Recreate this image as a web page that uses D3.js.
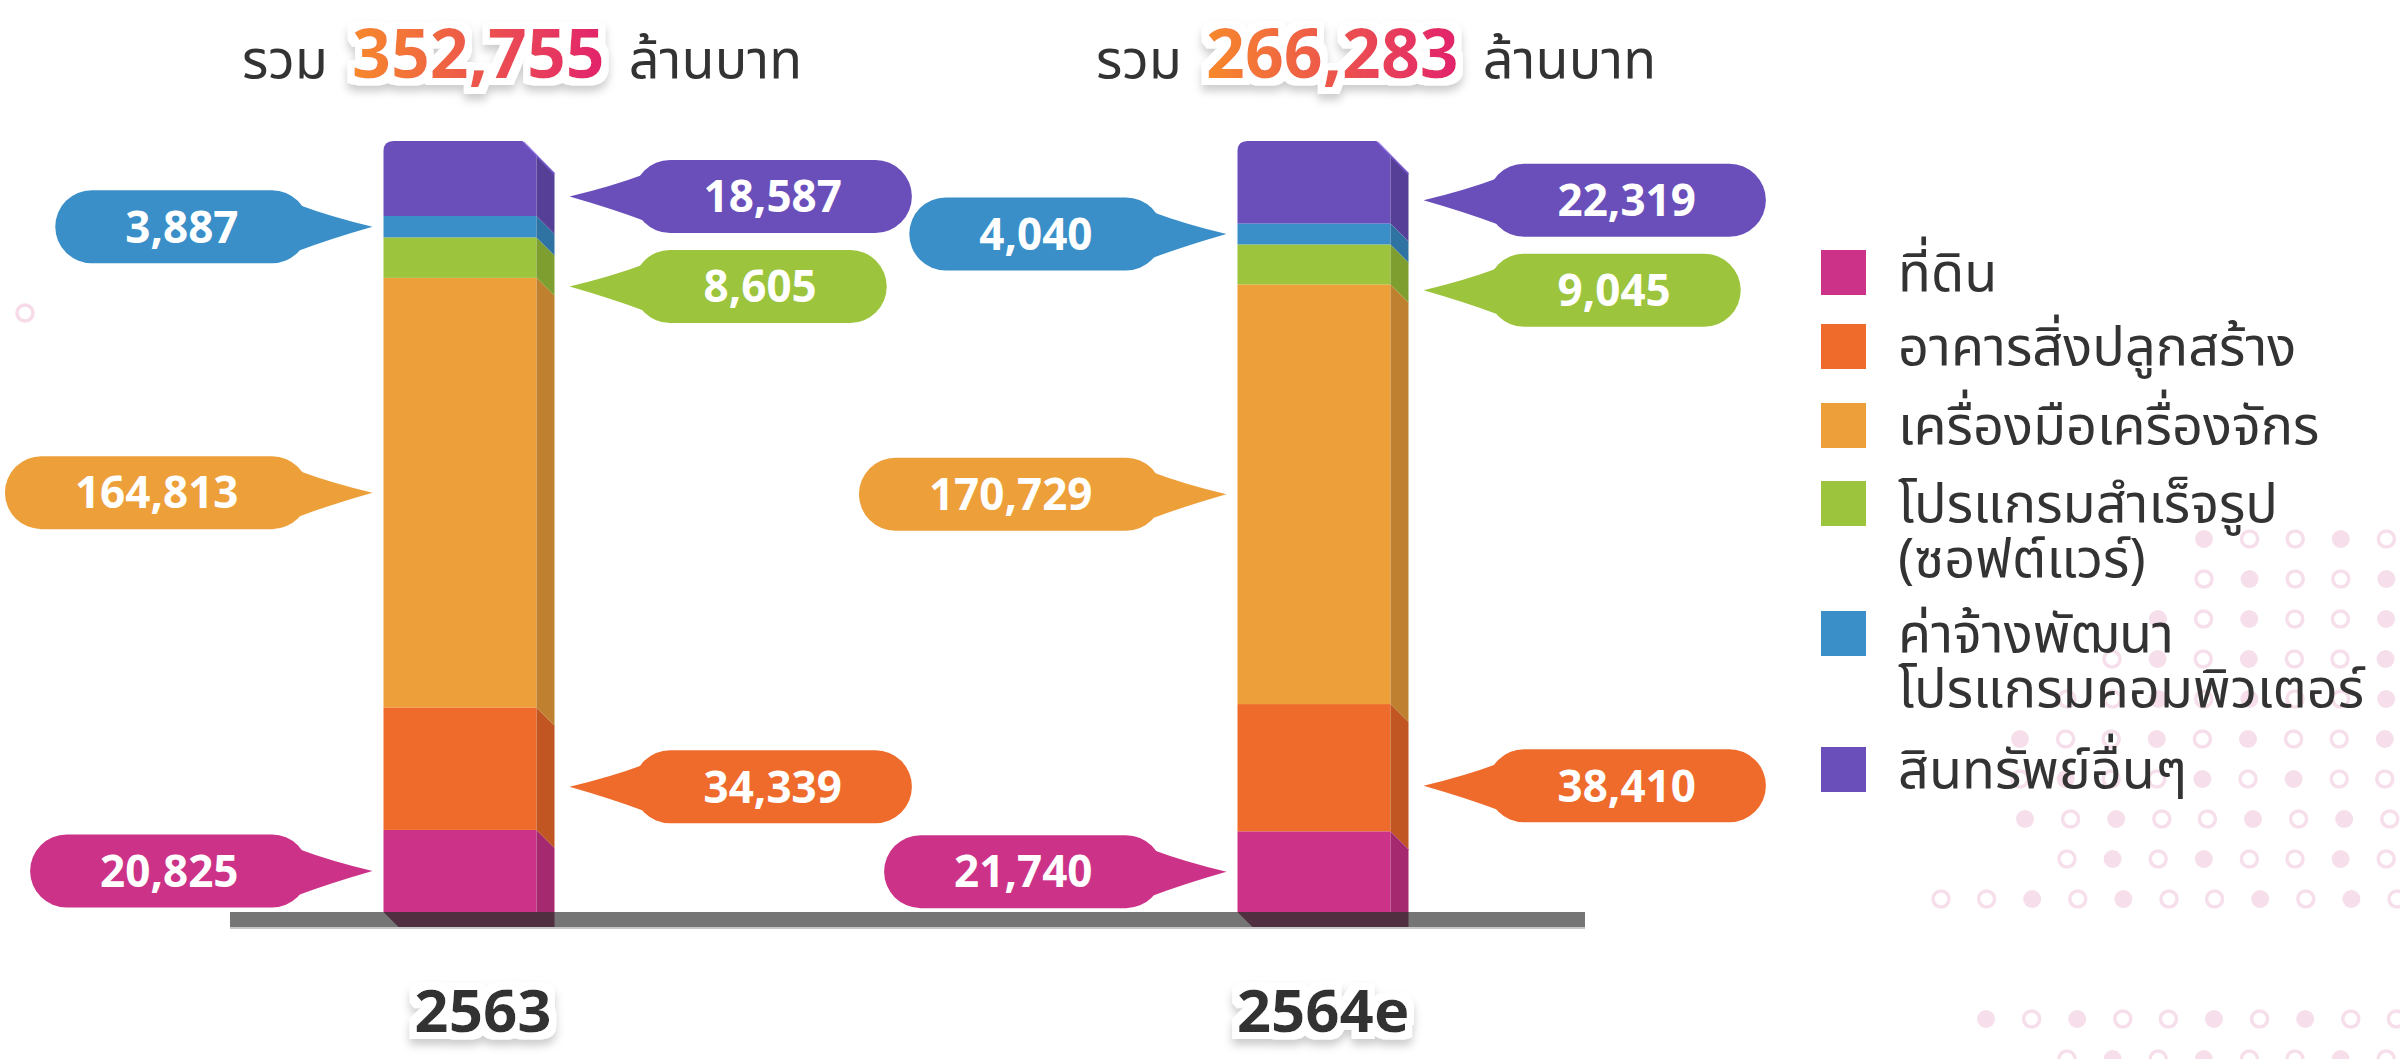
<!DOCTYPE html>
<html>
<head>
<meta charset="utf-8">
<script src="https://cdn.jsdelivr.net/npm/d3@7"></script>
<style>
  html, body { margin: 0; padding: 0; background: #fff; }
  svg { display: block; font-family: "Noto Sans Thai", "Noto Sans Thai UI", "Noto Sans", sans-serif; }
</style>
</head>
<body>
<script>
const years = ["2563", "2564e"];
const totals = [352755, 266283];
const categories = ["ที่ดิน", "อาคารสิ่งปลูกสร้าง", "เครื่องมือเครื่องจักร",
  "โปรแกรมสำเร็จรูป (ซอฟต์แวร์)", "ค่าจ้างพัฒนาโปรแกรมคอมพิวเตอร์", "สินทรัพย์อื่นๆ"];
const legendLines = [["ที่ดิน"], ["อาคารสิ่งปลูกสร้าง"], ["เครื่องมือเครื่องจักร"],
  ["โปรแกรมสำเร็จรูป", "(ซอฟต์แวร์)"], ["ค่าจ้างพัฒนา", "โปรแกรมคอมพิวเตอร์"], ["สินทรัพย์อื่นๆ"]];
const values2563 = [20825, 34339, 164813, 8605, 3887, 18587];
const values2564 = [21740, 38410, 170729, 9045, 4040, 22319];
const colors = ["#cc3388", "#ef6b2b", "#eda03a", "#9cc43c", "#3a8fc9", "#6a4fbb"];
// which side of the bar each callout sits on
const calloutSide = ["left", "right", "left", "right", "left", "right"];

const W = 2400, H = 1059;
const svg = d3.select("body").append("svg").attr("width", W).attr("height", H);
const defs = svg.append("defs");

// white halo + soft drop shadow used on the big texts
const halo = defs.append("filter").attr("id", "halo")
  .attr("x", "-20%").attr("y", "-30%").attr("width", "140%").attr("height", "160%");
halo.append("feMorphology").attr("in", "SourceAlpha").attr("operator", "dilate").attr("radius", 7).attr("result", "d");
halo.append("feGaussianBlur").attr("in", "d").attr("stdDeviation", 4).attr("result", "db");
halo.append("feOffset").attr("in", "db").attr("dx", 0).attr("dy", 6).attr("result", "off");
halo.append("feFlood").attr("flood-color", "#000").attr("flood-opacity", 0.2);
halo.append("feComposite").attr("in2", "off").attr("operator", "in").attr("result", "shadow");
halo.append("feFlood").attr("flood-color", "#fff");
halo.append("feComposite").attr("in2", "d").attr("operator", "in").attr("result", "white");
const hm = halo.append("feMerge");
hm.append("feMergeNode").attr("in", "shadow");
hm.append("feMergeNode").attr("in", "white");
hm.append("feMergeNode").attr("in", "SourceGraphic");

const grad = defs.append("linearGradient").attr("id", "numGrad")
  .attr("x1", "0%").attr("x2", "100%").attr("y1", "0%").attr("y2", "0%");
grad.append("stop").attr("offset", "0%").attr("stop-color", "#f7892a");
grad.append("stop").attr("offset", "100%").attr("stop-color", "#e2226d");

// ---- background dots (decoration) ----
const dotRows = d3.range(14).filter(j => j != 10 && j != 11);
const rowStart = [2204, 2204, 2158, 2112, 2067, 2020, 2020, 2025, 2067, 1941, 0, 0, 1986, 2067];
const gDots = svg.append("g");
dotRows.forEach(function(j) {
  const y = 539 + 40 * j;
  for (let x = rowStart[j], i = 0; x < W + 10; x += 45.6, i++) {
    const filled = (i * 7 + j * 3) % 5 < 2;
    gDots.append("circle")
      .attr("cx", x).attr("cy", y).attr("r", filled ? 9 : 8)
      .attr("fill", filled ? "#f6dfea" : "none")
      .attr("stroke", "#f6dfea").attr("stroke-width", filled ? 0 : 3.5);
  }
});
gDots.append("circle").attr("cx", 25).attr("cy", 313).attr("r", 8)
  .attr("fill", "none").attr("stroke", "#f7dbe8").attr("stroke-width", 3.5);

// ---- scales ----
const barW = 153, depth = 18, chamfer = 14;
const barTop = 141, barBottom = 912;
const x = d3.scalePoint().domain(years).range([460, 1314]);
const allValues = values2563.concat(values2564);
// infographic bars: heights are compressed, each bar fills the same column
const hScale = d3.scalePow().exponent(0.8).domain([0, d3.max(allValues)]).range([0, 1]);

// base line
svg.append("rect").attr("x", 230).attr("y", barBottom).attr("width", 1355).attr("height", 15).attr("fill", "#757575");
svg.append("rect").attr("x", 230).attr("y", barBottom + 15).attr("width", 1355).attr("height", 2).attr("fill", "#c8c8c8");

function bubble(g, side, tipX, cy, label, color) {
  const h = 73, r = h / 2, pad = 70, tail = 64;
  const t = g.append("text").attr("font-size", 44).attr("font-weight", 700)
    .attr("fill", "#fff").attr("text-anchor", "middle").attr("dy", "0.36em").text(label);
  const tw = t.node().getComputedTextLength();
  const bw = tw + 2 * pad;
  const s = side == "right" ? 1 : -1;
  const edge = side == "right" ? tipX + tail : tipX - tail;
  const bx0 = side == "right" ? edge : edge - bw;
  const p = d3.path();
  p.moveTo(tipX, cy);
  p.quadraticCurveTo(edge - s * 22, cy - 10, edge + s * 10, cy - 22);
  p.lineTo(edge + s * 10, cy + 24);
  p.quadraticCurveTo(edge - s * 22, cy + 12, tipX, cy);
  g.insert("path", "text").attr("d", p.toString()).attr("fill", color);
  g.insert("rect", "text").attr("x", bx0).attr("y", cy - r).attr("width", bw).attr("height", h)
    .attr("rx", r).attr("ry", r).attr("fill", color);
  t.attr("x", bx0 + bw / 2).attr("y", cy);
}

const series = [values2563, values2564];
years.forEach(function(yr, k) {
  const vals = series[k];
  const y = d3.scaleLinear().domain([0, d3.sum(vals, hScale)]).range([barBottom, barTop]);
  const x0 = x(yr) - barW / 2, x1 = x0 + barW;
  const g = svg.append("g").attr("class", "bar");

  // shadow on the base
  g.append("path").attr("fill", "#4f2f40")
    .attr("d", `M${x0},${barBottom}L${x0 + 15},${barBottom + 15}L${x1 + depth},${barBottom + 15}L${x1 + depth},${barBottom}Z`);

  let cum = 0;
  const centers = [];
  vals.forEach(function(v, i) {
    const yB = y(cum);
    cum += hScale(v);
    const yT = y(cum);
    const top = i == vals.length - 1;
    centers.push((yB + yT) / 2);
    const side = d3.color(colors[i]).darker(0.6);
    if (top) {
      const r = 10;
      g.append("path").attr("fill", colors[i])
        .attr("d", `M${x0},${yB}L${x0},${yT + r}Q${x0},${yT} ${x0 + r},${yT}L${x1 - chamfer},${yT}L${x1},${yT + chamfer}L${x1},${yB}Z`);
      g.append("path").attr("fill", side)
        .attr("d", `M${x1},${yT + chamfer}L${x1 + depth},${yT + chamfer + depth}L${x1 + depth},${yB + depth}L${x1},${yB}Z`);
      g.append("line").attr("x1", x1 - chamfer + 1).attr("y1", yT + 1).attr("x2", x1 + depth).attr("y2", yT + chamfer + depth + 1)
        .attr("stroke", d3.color(colors[i]).brighter(0.5)).attr("stroke-width", 2).attr("opacity", 0.6);
    } else {
      g.append("rect").attr("x", x0).attr("y", yT).attr("width", barW).attr("height", yB - yT).attr("fill", colors[i]);
      const bot = i == 0 ? barBottom : yB + depth;
      const botIn = i == 0 ? barBottom : yB;
      g.append("path").attr("fill", side)
        .attr("d", `M${x1},${yT}L${x1 + depth},${yT + depth}L${x1 + depth},${bot}L${x1},${botIn}Z`);
    }
  });

  // callouts: left side points at the front face, right side at the side face
  const gb = svg.append("g").attr("class", "callouts");
  ["left", "right"].forEach(function(s) {
    const idx = d3.range(vals.length).filter(i => calloutSide[i] == s).sort((a, b) => b - a); // top first
    let prev = -Infinity;
    idx.forEach(function(i) {
      let cy = centers[i] + (s == "right" ? depth : 0);
      if (cy < prev + 90) cy = prev + 90;
      prev = cy;
      const tipX = s == "right" ? x1 + depth + 15 : x0 - 11;
      bubble(gb.append("g"), s, tipX, cy, d3.format(",")(vals[i]), colors[i]);
    });
  });

  // year label
  svg.append("text").attr("x", x(yr) + depth / 2 + 14 * (1 - k)).attr("y", 1032)
    .attr("text-anchor", "middle").attr("font-size", 60).attr("font-weight", 700)
    .attr("fill", "#333").attr("filter", "url(#halo)").text(yr);

  // title: รวม <total> ล้านบาท
  const tg = svg.append("g");
  const a = tg.append("text").attr("font-size", 54).attr("fill", "#333").text("รวม");
  const b = tg.append("text").attr("font-size", 68).attr("font-weight", 700)
    .attr("fill", "url(#numGrad)").attr("filter", "url(#halo)").text(d3.format(",")(totals[k]));
  const c = tg.append("text").attr("font-size", 54).attr("fill", "#333").text("ล้านบาท");
  const wa = a.node().getComputedTextLength(), wb = b.node().getComputedTextLength(), wc = c.node().getComputedTextLength();
  const gap = 24;
  let sx = x(yr) + 62 - (wa + wb + wc + 2 * gap) / 2;
  const base = 78;
  a.attr("x", sx).attr("y", base);
  b.attr("x", sx + wa + gap).attr("y", base);
  c.attr("x", sx + wa + wb + 2 * gap).attr("y", base);
});

// ---- legend ----
const legendY = [250, 324, 403, 481, 611, 747];
const lg = svg.append("g").attr("class", "legend");
categories.forEach(function(cat, i) {
  lg.append("rect").attr("x", 1821).attr("y", legendY[i]).attr("width", 45).attr("height", 45).attr("fill", colors[i]);
  legendLines[i].forEach(function(line, j) {
    lg.append("text").attr("x", 1898).attr("y", legendY[i] + 22 + j * 55).attr("dy", "0.36em")
      .attr("font-size", 54).attr("fill", "#333").text(line);
  });
});
</script>
</body>
</html>
